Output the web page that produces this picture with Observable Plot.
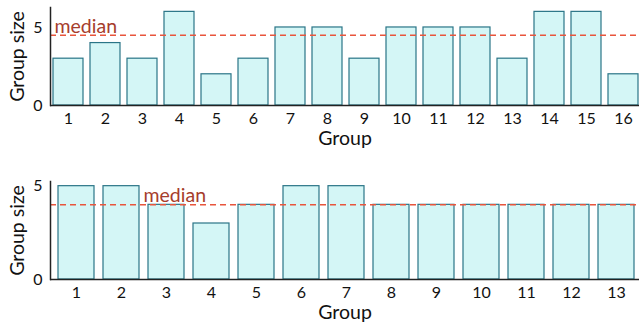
<!DOCTYPE html>
<html>
<head>
<meta charset="utf-8">
<script src="https://cdn.jsdelivr.net/npm/d3@7"></script>
<script src="https://cdn.jsdelivr.net/npm/@observablehq/plot@0.6"></script>
<style>
  html, body { margin: 0; padding: 0; background: #fff; }
  #chart svg { display: block; }
  [aria-label="x-axis label"], [aria-label="y-axis label"] { font-size: 19.5px; }
</style>
</head>
<body>
<div id="chart"></div>
<script>
// Panel 1
const groups1 = ["1","2","3","4","5","6","7","8","9","10","11","12","13","14","15","16"];
const sizes1 = [3, 4, 3, 6, 2, 3, 5, 5, 3, 5, 5, 5, 3, 6, 6, 2];
// Panel 2
const groups2 = ["1","2","3","4","5","6","7","8","9","10","11","12","13"];
const sizes2 = [5, 5, 4, 3, 4, 5, 5, 4, 4, 4, 4, 4, 4];
const yTicks = [0, 5];
const medianLabel = "median";

function panel(groups, sizes, opts) {
  const data = groups.map((g, i) => ({group: g, size: sizes[i]}));
  const med = d3.median(sizes);
  return Plot.plot({
    width: 639,
    height: opts.height,
    marginTop: opts.marginTop,
    marginBottom: opts.marginBottom,
    marginLeft: 50,
    marginRight: 0,
    style: {fontFamily: "Lato, 'Open Sans', sans-serif", fontSize: "16px", color: "#111", background: "#fff"},
    x: {type: "band", domain: groups, range: [50, 641.5], paddingInner: 0.2, paddingOuter: 0.085},
    y: {domain: [0, opts.ymax]},
    marks: [
      Plot.barY(data, {x: "group", y: "size", fill: "#d4f6f6", stroke: "#2a7587", strokeWidth: 1.2}),
      Plot.ruleY([med], {stroke: "#e8553c", strokeWidth: 1.5, strokeDasharray: "6,4"}),
      Plot.text([medianLabel], {x: () => opts.labelGroup, y: () => med, text: d => d, textAnchor: "start", dx: opts.labelDx, dy: -9, fill: "#a63d2c", fontSize: 19.5}),
      Plot.ruleY([0], {stroke: "#222", strokeWidth: 1.5}),
      Plot.frame({anchor: "left", stroke: "#222", strokeWidth: 1.5}),
      Plot.axisY({ticks: yTicks, tickFormat: d => String(d), tickSize: 0, tickPadding: 8, fontSize: 16, label: "Group size", labelAnchor: "center", labelArrow: false, labelOffset: 40}),
      Plot.axisX({tickSize: 0, tickPadding: 7, label: "Group", labelAnchor: "center", labelArrow: false, labelOffset: 39})
    ]
  });
}

const chart = document.getElementById("chart");
chart.append(panel(groups1, sizes1, {height: 160, marginTop: 7, marginBottom: 55, ymax: 6.28, labelGroup: "1", labelDx: -14}));
chart.append(panel(groups2, sizes2, {height: 167, marginTop: 21, marginBottom: 48, ymax: 5.25, labelGroup: "3", labelDx: -23}));
</script>
</body>
</html>
